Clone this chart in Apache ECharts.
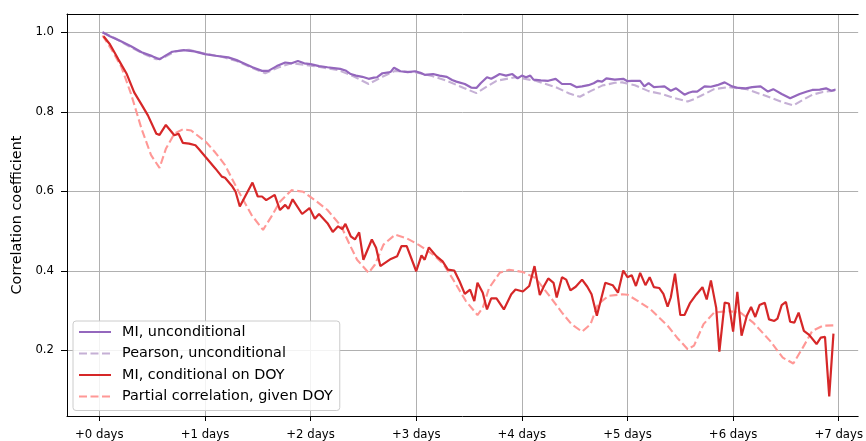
<!DOCTYPE html>
<html>
<head>
<meta charset="utf-8">
<script src="https://cdn.jsdelivr.net/npm/echarts@6/dist/echarts.min.js"></script>
<style>
  html, body { margin: 0; padding: 0; background: #fff; }
  #chart { width: 866px; height: 441px; }
</style>
</head>
<body>
<div id="chart"></div>
<script>
// Lag (days) vs. correlation, [day, value] pairs
const miUnconditional = [
  [0.03,1.0],[0.1,0.99],[0.2,0.978],[0.3,0.965],[0.4,0.95],[0.5,0.94],[0.57,0.932],[0.63,0.942],[0.69,0.951],[0.8,0.955],
  [0.9,0.952],[1.0,0.945],[1.1,0.941],[1.22,0.937],[1.3,0.93],[1.35,0.924],[1.45,0.912],[1.54,0.903],[1.6,0.903],[1.68,0.915],
  [1.76,0.924],[1.82,0.922],[1.88,0.928],[1.94,0.922],[2.0,0.92],[2.08,0.915],[2.16,0.912],[2.22,0.91],[2.28,0.908],[2.33,0.904],
  [2.38,0.895],[2.43,0.891],[2.49,0.888],[2.55,0.883],[2.6,0.886],[2.63,0.887],[2.68,0.897],[2.74,0.899],[2.76,0.901],[2.79,0.911],
  [2.85,0.902],[2.92,0.9],[2.99,0.902],[3.04,0.898],[3.08,0.893],[3.16,0.895],[3.22,0.891],[3.29,0.888],[3.34,0.88],[3.38,0.876],
  [3.46,0.87],[3.52,0.861],[3.57,0.86],[3.61,0.872],[3.67,0.887],[3.71,0.883],[3.75,0.889],[3.79,0.895],[3.85,0.891],[3.91,0.895],
  [3.96,0.884],[4.0,0.891],[4.04,0.887],[4.08,0.891],[4.11,0.881],[4.18,0.879],[4.25,0.878],[4.32,0.883],[4.38,0.87],[4.46,0.87],
  [4.52,0.862],[4.57,0.864],[4.63,0.867],[4.68,0.872],[4.72,0.878],[4.76,0.876],[4.8,0.884],[4.88,0.881],[4.96,0.883],[5.0,0.877],
  [5.04,0.878],[5.12,0.878],[5.16,0.864],[5.2,0.872],[5.25,0.862],[5.3,0.863],[5.35,0.864],[5.41,0.853],[5.46,0.859],[5.54,0.843],
  [5.58,0.848],[5.62,0.851],[5.66,0.851],[5.73,0.864],[5.79,0.863],[5.85,0.867],[5.92,0.874],[5.99,0.864],[6.05,0.86],[6.12,0.859],
  [6.18,0.862],[6.26,0.864],[6.33,0.851],[6.38,0.857],[6.46,0.845],[6.54,0.834],[6.63,0.845],[6.7,0.851],[6.75,0.855],[6.82,0.856],
  [6.88,0.859],[6.93,0.853],[6.97,0.856]
];

const pearsonUnconditional = [
  [0.03,1.0],[0.15,0.985],[0.3,0.962],[0.45,0.942],[0.54,0.932],[0.6,0.935],[0.72,0.952],[0.85,0.956],[1.0,0.946],[1.15,0.939],
  [1.3,0.928],[1.45,0.91],[1.57,0.897],[1.7,0.912],[1.82,0.922],[1.95,0.918],[2.1,0.912],[2.26,0.905],[2.4,0.89],[2.55,0.87],
  [2.68,0.888],[2.8,0.903],[3.0,0.899],[3.15,0.89],[3.29,0.878],[3.45,0.86],[3.57,0.847],[3.66,0.862],[3.76,0.878],[3.94,0.887],
  [4.13,0.878],[4.32,0.862],[4.45,0.846],[4.55,0.838],[4.65,0.852],[4.76,0.866],[4.88,0.873],[4.95,0.874],[5.07,0.867],[5.2,0.852],
  [5.32,0.845],[5.45,0.834],[5.57,0.826],[5.63,0.832],[5.7,0.841],[5.82,0.857],[5.95,0.862],[6.13,0.857],[6.32,0.839],[6.45,0.826],
  [6.57,0.816],[6.66,0.83],[6.75,0.843],[6.85,0.85],[6.97,0.853]
];

const miConditionalDoy = [
  [0.04,0.99],[0.1,0.97],[0.18,0.932],[0.26,0.895],[0.33,0.849],[0.4,0.818],[0.46,0.791],[0.54,0.745],[0.57,0.742],[0.63,0.767],
  [0.71,0.741],[0.75,0.745],[0.79,0.722],[0.85,0.72],[0.91,0.716],[0.94,0.707],[1.01,0.685],[1.1,0.657],[1.16,0.637],[1.19,0.634],
  [1.26,0.612],[1.29,0.599],[1.33,0.562],[1.37,0.582],[1.45,0.622],[1.5,0.587],[1.54,0.587],[1.58,0.578],[1.66,0.591],[1.71,0.553],
  [1.76,0.566],[1.79,0.556],[1.83,0.58],[1.92,0.543],[1.99,0.558],[2.04,0.531],[2.08,0.543],[2.16,0.52],[2.21,0.498],[2.26,0.512],
  [2.3,0.505],[2.33,0.518],[2.38,0.487],[2.42,0.479],[2.46,0.497],[2.5,0.428],[2.58,0.479],[2.62,0.458],[2.66,0.412],[2.76,0.43],
  [2.82,0.437],[2.86,0.462],[2.91,0.462],[3.0,0.399],[3.05,0.439],[3.08,0.428],[3.12,0.459],[3.19,0.437],[3.25,0.424],[3.3,0.403],
  [3.36,0.401],[3.41,0.374],[3.46,0.342],[3.51,0.353],[3.55,0.324],[3.58,0.37],[3.63,0.345],[3.67,0.303],[3.71,0.331],[3.76,0.331],
  [3.83,0.303],[3.9,0.341],[3.94,0.353],[4.01,0.348],[4.07,0.362],[4.12,0.412],[4.17,0.339],[4.21,0.362],[4.25,0.381],[4.3,0.37],
  [4.33,0.333],[4.38,0.384],[4.42,0.378],[4.46,0.351],[4.51,0.36],[4.57,0.378],[4.62,0.36],[4.66,0.341],[4.71,0.287],[4.79,0.37],
  [4.86,0.364],[4.91,0.345],[4.96,0.401],[5.0,0.384],[5.04,0.389],[5.08,0.362],[5.12,0.395],[5.17,0.364],[5.21,0.384],[5.25,0.359],
  [5.3,0.357],[5.34,0.342],[5.38,0.31],[5.41,0.333],[5.45,0.393],[5.5,0.289],[5.54,0.289],[5.59,0.318],[5.65,0.34],[5.71,0.359],
  [5.75,0.328],[5.79,0.376],[5.84,0.307],[5.87,0.197],[5.92,0.32],[5.96,0.318],[6.0,0.247],[6.04,0.347],[6.08,0.237],[6.13,0.287],
  [6.17,0.309],[6.21,0.284],[6.25,0.314],[6.3,0.32],[6.34,0.278],[6.39,0.274],[6.42,0.28],[6.46,0.314],[6.5,0.322],[6.54,0.272],
  [6.58,0.27],[6.62,0.295],[6.67,0.249],[6.72,0.239],[6.79,0.216],[6.83,0.232],[6.87,0.234],[6.91,0.084],[6.95,0.242]
];

const partialGivenDoy = [
  [0.03,0.992],[0.12,0.955],[0.21,0.912],[0.3,0.845],[0.4,0.757],[0.49,0.691],[0.57,0.659],[0.63,0.707],[0.71,0.745],[0.79,0.756],
  [0.87,0.753],[1.01,0.724],[1.1,0.697],[1.19,0.666],[1.32,0.599],[1.44,0.541],[1.55,0.503],[1.63,0.537],[1.71,0.574],[1.82,0.603],
  [1.93,0.599],[2.04,0.578],[2.16,0.553],[2.29,0.512],[2.37,0.466],[2.44,0.428],[2.55,0.395],[2.61,0.416],[2.69,0.466],[2.8,0.491],
  [2.91,0.482],[3.02,0.466],[3.16,0.441],[3.26,0.416],[3.35,0.378],[3.47,0.324],[3.58,0.289],[3.63,0.307],[3.69,0.357],[3.79,0.395],
  [3.88,0.403],[4.01,0.397],[4.13,0.382],[4.25,0.341],[4.38,0.295],[4.47,0.266],[4.57,0.247],[4.65,0.266],[4.72,0.316],[4.82,0.337],
  [4.95,0.341],[5.0,0.34],[5.1,0.324],[5.22,0.303],[5.38,0.262],[5.47,0.232],[5.57,0.203],[5.63,0.212],[5.72,0.266],[5.82,0.295],
  [5.95,0.299],[6.07,0.295],[6.19,0.27],[6.35,0.224],[6.47,0.182],[6.57,0.167],[6.66,0.207],[6.75,0.249],[6.85,0.262],[6.95,0.263]
];

const seriesNames = ['MI, unconditional', 'Pearson, unconditional', 'MI, conditional on DOY', 'Partial correlation, given DOY'];
const xTickDays = [0, 1, 2, 3, 4, 5, 6, 7];
const yTickValues = [0.2, 0.4, 0.6, 0.8, 1.0];

const FONT = 'DejaVu Sans';
const chart = echarts.init(document.getElementById('chart'), null, { renderer: 'canvas' });

function lineSeries(name, data, color, dashed, z) {
  return {
    name: name,
    type: 'line',
    data: data,
    symbol: 'none',
    smooth: false,
    z: z,
    lineStyle: { color: color, width: dashed ? 2.1 : 2.2, type: dashed ? [8, 3.5] : 'solid', cap: 'butt' },
    itemStyle: { color: color },
    emphasis: { disabled: true }
  };
}

chart.setOption({
  animation: false,
  backgroundColor: '#ffffff',
  textStyle: { fontFamily: FONT },
  grid: { left: 67, top: 14, right: 0, bottom: 23, containLabel: false },
  legend: {
    orient: 'vertical',
    left: 73,
    top: 321,
    itemWidth: 32,
    itemHeight: 14,
    itemGap: 7.5,
    padding: [4, 7, 7, 5],
    backgroundColor: 'rgba(255,255,255,0.85)',
    borderColor: '#cccccc',
    borderWidth: 1,
    borderRadius: 3,
    // line-only swatches: hide the marker drawn on top of each line sample
    itemStyle: { opacity: 0 },
    textStyle: { fontFamily: FONT, fontSize: 14.4, color: '#000', padding: [0, 0, 0, 6] },
    data: seriesNames
  },
  xAxis: [
    {
      type: 'value',
      min: -0.306,
      max: 7.184,
      position: 'bottom',
      axisLine: { show: true, onZero: false, lineStyle: { color: '#000', width: 1 } },
      axisTick: { show: true, customValues: xTickDays, length: 5, lineStyle: { color: '#000', width: 1 } },
      axisLabel: {
        customValues: xTickDays,
        formatter: v => '+' + v + ' days',
        fontFamily: FONT, fontSize: 11.7, color: '#000', margin: 13
      },
      splitLine: { show: true, lineStyle: { color: '#b0b0b0', width: 1 } }
    },
    {
      type: 'value',
      min: -0.306,
      max: 7.184,
      position: 'top',
      axisLine: { show: true, onZero: false, lineStyle: { color: '#000', width: 1 } },
      axisTick: { show: false },
      axisLabel: { show: false },
      splitLine: { show: false }
    }
  ],
  yAxis: {
    type: 'value',
    min: 0.035,
    max: 1.046,
    name: 'Correlation coefficient',
    nameLocation: 'middle',
    nameGap: 41,
    nameTextStyle: { fontFamily: FONT, fontSize: 14.4, color: '#000' },
    axisLine: { show: true, onZero: false, lineStyle: { color: '#000', width: 1 } },
    axisTick: { show: true, customValues: yTickValues, length: 6, lineStyle: { color: '#000', width: 1 } },
    axisLabel: {
      customValues: yTickValues,
      formatter: v => v.toFixed(1),
      fontFamily: FONT, fontSize: 11.7, color: '#000', margin: 13
    },
    splitLine: { show: true, lineStyle: { color: '#b0b0b0', width: 1 } }
  },
  series: [
    lineSeries(seriesNames[0], miUnconditional, '#9467bd', false, 3),
    lineSeries(seriesNames[1], pearsonUnconditional, '#c5b0d5', true, 2),
    lineSeries(seriesNames[2], miConditionalDoy, '#d62728', false, 3),
    lineSeries(seriesNames[3], partialGivenDoy, '#ff9896', true, 2)
  ]
});
</script>
</body>
</html>
